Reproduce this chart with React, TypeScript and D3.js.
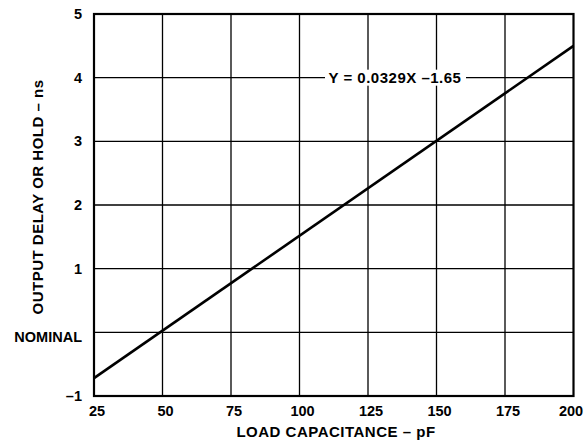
import React from "react";
import * as d3 from "d3";

const xTicks = [25, 50, 75, 100, 125, 150, 175, 200];
const yTicks = [-1, 0, 1, 2, 3, 4, 5];
const yTickLabels = ["–1", "NOMINAL", "1", "2", "3", "4", "5"];
const lineX = [25, 200];
const lineY = [-0.72, 4.5];
const equationText = "Y = 0.0329X –1.65";
const xTitle = "LOAD CAPACITANCE – pF";
const yTitle = "OUTPUT DELAY OR HOLD – ns";

const W = 587, H = 442;
const M = { left: 94, right: 573.5, top: 14, bottom: 396 };

export default function App() {
  const x = d3.scaleLinear().domain([25, 200]).range([M.left, M.right]);
  const y = d3.scaleLinear().domain([-1, 5]).range([M.bottom, M.top]);
  const pts = lineX.map((v, i) => [v, lineY[i]] as [number, number]);
  const line = d3.line<[number, number]>().x(d => x(d[0])).y(d => y(d[1]));
  const font = "'Liberation Sans', Arial, Helvetica, sans-serif";
  const eqX = 395, eqY = y(4);
  return (
    <svg width={W} height={H} style={{ position: "absolute", left: 0, top: 0, background: "#fff" }} fontFamily={font} fontWeight="bold">
      <rect x={0} y={0} width={W} height={H} fill="#fff" />
      {xTicks.slice(1, -1).map(t => (
        <line key={"gx" + t} x1={x(t)} x2={x(t)} y1={M.top} y2={M.bottom} stroke="#000" strokeWidth={1.3} />
      ))}
      {yTicks.slice(1, -1).map(t => (
        <line key={"gy" + t} x1={M.left} x2={M.right} y1={y(t)} y2={y(t)} stroke="#000" strokeWidth={1.3} />
      ))}
      <rect x={eqX - 70} y={eqY - 8} width={141} height={16} fill="#fff" />
      <text x={eqX} y={eqY + 5.5} textAnchor="middle" fontSize={15} letterSpacing={0.5}>{equationText}</text>
      <path d={line(pts) || ""} fill="none" stroke="#000" strokeWidth={2.6} />
      <rect x={M.left} y={M.top} width={M.right - M.left} height={M.bottom - M.top} fill="none" stroke="#000" strokeWidth={2.2} />
      {xTicks.map(t => (
        <text key={"xl" + t} x={Math.min(x(t) + 3, 571)} y={416} textAnchor="middle" fontSize={14.5}>{t}</text>
      ))}
      {yTicks.map((t, i) => (
        <text key={"yl" + t} x={82} y={y(t) + (t === 0 ? 9.5 : 5)} textAnchor="end" fontSize={14.5}>{yTickLabels[i]}</text>
      ))}
      <text x={336} y={437} textAnchor="middle" fontSize={15} letterSpacing={0.5}>{xTitle}</text>
      <text transform={`translate(42.5,197) rotate(-90)`} textAnchor="middle" fontSize={15} letterSpacing={0.5}>{yTitle}</text>
    </svg>
  );
}
